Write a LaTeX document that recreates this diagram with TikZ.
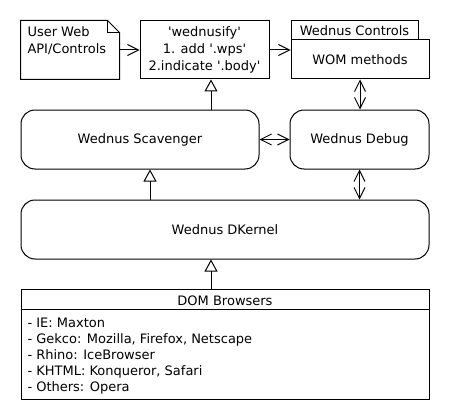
\documentclass[tikz,border=0pt]{standalone}
\usepackage{fontspec}
\setmainfont{DejaVu Sans}
\usepackage{tikz}
\usetikzlibrary{calc, arrows.meta, positioning}

\begin{document}
\begin{tikzpicture}[x=1pt, y=-1pt, line width=1pt,
    every node/.style={font=\fontsize{13}{17}\selectfont, inner sep=0pt},
    box/.style={draw, minimum width=#1, align=center},
    rbox/.style={draw, rounded corners=14pt, minimum width=#1, minimum height=59pt},
    realize/.style={-{Triangle[open, length=12pt, width=13pt]}},
    uses/.style={-{Straight Barb[length=11pt, width=11pt]}},
    both/.style={{Straight Barb[length=11pt, width=11pt]}-{Straight Barb[length=11pt, width=11pt]}}]
    \useasboundingbox (0,0) rectangle (450,420);
    % top row
    \node[minimum width=98pt, minimum height=58pt] (user) at (70,50) {};
    \draw (user.north west) -- ([xshift=-12pt]user.north east) -- ([yshift=-12pt]user.north east)
        -- (user.south east) -- (user.south west) -- cycle;
    \draw ([xshift=-12pt]user.north east) |- ([yshift=-12pt]user.north east);
    \node[anchor=west, align=left] (usertxt) at (27,40.5) {User Web\\API/Controls};
    \node[box=129pt, minimum height=58pt] (wed) at (204.5,50)
        {\textquotesingle wednusify\textquotesingle\\1. add \textquotesingle.wps\textquotesingle\\2.indicate \textquotesingle.body\textquotesingle};
    \node[box=127pt, minimum height=19pt] (tab) at (354.5,30.5) {Wednus Controls};
    \node[box=138pt, minimum height=39pt] (wom) at (360,59.5) {WOM methods};
    % middle
    \node[rbox=238pt] (scav) at (140,139.5) {Wednus Scavenger};
    \node[rbox=139pt] (debug) at (359.5,139.5) {Wednus Debug};
    \node[rbox=408pt] (kernel) at (225,229.5) {Wednus DKernel};
    % browsers
    \node[draw, minimum width=408pt, minimum height=110pt] (dom) at (225,344) {};
    \draw ([yshift=-21pt]dom.north west) -- ([yshift=-21pt]dom.north east);
    \node (domtitle) at (225,301) {DOM Browsers};
    \node[anchor=north west, align=left, font=\fontsize{13}{16}\selectfont] (domlist) at (27,318)
        {- IE: Maxton\\- Gekco: Mozilla, Firefox, Netscape\\- Rhino: IceBrowser\\- KHTML: Konqueror, Safari\\- Others: Opera};
    % connectors
    \draw[uses] (user) -- (wed);
    \draw[uses] (wed.east) -- (wed.east -| wom.west);
    \draw[realize] (scav.north -| 211,0) -- ([xshift=6.5pt]wed.south);
    \draw[both] (wom.south) -- (wom.south |- debug.north);
    \draw[both] (scav) -- (debug);
    \draw[realize] ([xshift=10pt]scav.south |- kernel.north) -- ([xshift=10pt]scav.south);
    \draw[both] (debug.south) -- (debug.south |- kernel.north);
    \draw[realize] (dom.north -| 211,0) -- (kernel.south -| 211,0);
\end{tikzpicture}
\end{document}
